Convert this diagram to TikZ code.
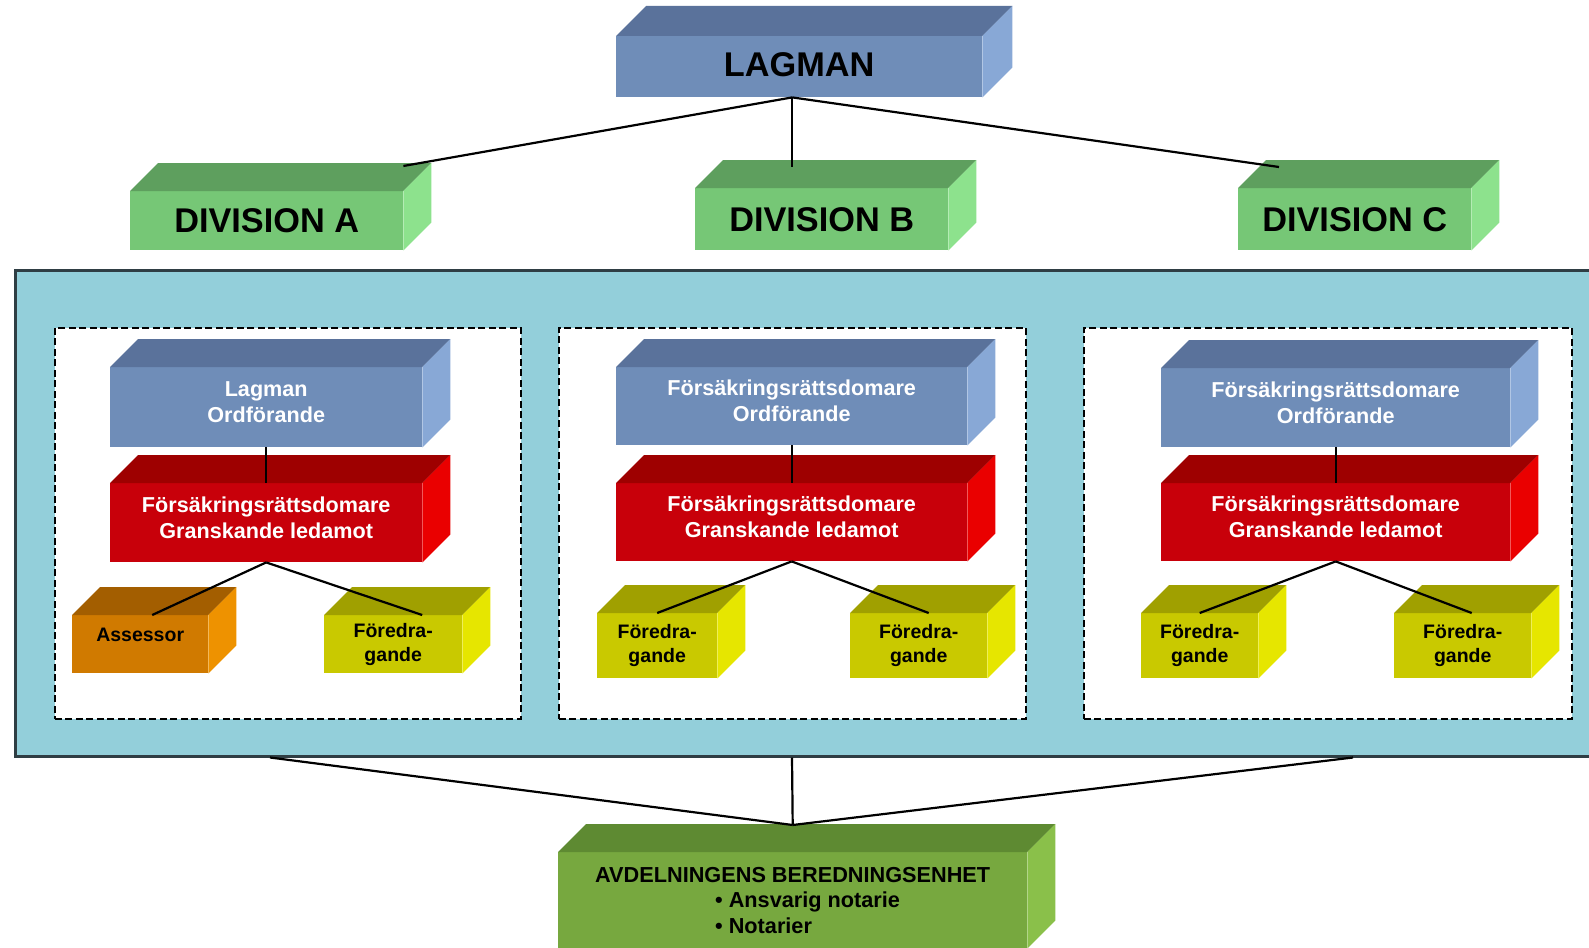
\documentclass[tikz,border=0pt]{standalone}
\usepackage{fontspec}
\setmainfont{Liberation Sans}
\usepackage{xcolor}
\usetikzlibrary{calc}

\definecolor{bluefront}{HTML}{6F8DB8}
\definecolor{bluetop}{HTML}{5A729B}
\definecolor{blueside}{HTML}{88A8D6}
\definecolor{divfront}{HTML}{76C776}
\definecolor{divtop}{HTML}{5E9F5E}
\definecolor{divside}{HTML}{8DE28D}
\definecolor{redfront}{HTML}{C8000A}
\definecolor{redtop}{HTML}{9E0000}
\definecolor{redside}{HTML}{EA0000}
\definecolor{orgfront}{HTML}{D07A00}
\definecolor{orgtop}{HTML}{A35E00}
\definecolor{orgside}{HTML}{EE9200}
\definecolor{yelfront}{HTML}{C9C900}
\definecolor{yeltop}{HTML}{A0A000}
\definecolor{yelside}{HTML}{E6E600}
\definecolor{unitfront}{HTML}{77A83F}
\definecolor{unittop}{HTML}{5E8A32}
\definecolor{unitside}{HTML}{8AC04A}
\definecolor{panelfill}{HTML}{93CFDA}
\definecolor{panelline}{HTML}{2F3E44}

% top and side faces of a box node
\newcommand{\sides}[4][28]{%
  \fill[#3] (#2.north west) -- ++(#1,-#1) -- ($(#2.north east)+(#1,-#1)$) -- (#2.north east) -- cycle;
  \fill[#4] (#2.north east) -- ++(#1,-#1) -- ($(#2.south east)+(#1,-#1)$) -- (#2.south east) -- cycle;
}

\begin{document}
\begin{tikzpicture}[x=1pt, y=-1pt,
    block/.style={rectangle, inner sep=0pt, anchor=north west, align=center},
    big/.style={font=\bfseries\fontsize{34.3}{40}\selectfont},
    mid/.style={font=\bfseries\fontsize{21.6}{26}\selectfont, text=white, text depth=11pt},
    small/.style={font=\bfseries\fontsize{19.5}{24}\selectfont},
    group/.style={block, draw=black, fill=white, line width=1.8pt, dash pattern=on 7pt off 3.5pt},
    link/.style={line width=2.2pt}]
    \fill[white, use as bounding box] (0,0) rectangle (1589,947);

    \node [block, draw=panelline, line width=2.5pt, fill=panelfill, minimum width=1620pt, minimum height=486pt] (panel) at (14,269) {};
    \node [group, minimum width=466pt, minimum height=391pt] (grpA) at (54,327) {};
    \node [group, minimum width=467pt, minimum height=391pt] (grpB) at (558,327) {};
    \node [group, minimum width=488pt, minimum height=391pt] (grpC) at (1083,327) {};

    \node [block, big, fill=bluefront, minimum width=366pt, minimum height=61pt, text depth=4pt] (lagman) at (616,36) {LAGMAN};
    \sides[30]{lagman}{bluetop}{blueside}
    \node [block, big, fill=divfront, minimum width=273pt, minimum height=59pt] (divA) at (130,191) {DIVISION A};
    \sides{divA}{divtop}{divside}
    \node [block, big, fill=divfront, minimum width=253pt, minimum height=62pt] (divB) at (695,188) {DIVISION B};
    \sides{divB}{divtop}{divside}
    \node [block, big, fill=divfront, minimum width=233pt, minimum height=62pt] (divC) at (1238,188) {DIVISION C};
    \sides{divC}{divtop}{divside}

    \node [block, mid, fill=bluefront, minimum width=312pt, minimum height=80pt] (blueA) at (110,367) {Lagman\\Ordförande};
    \sides{blueA}{bluetop}{blueside}
    \node [block, mid, fill=redfront, minimum width=312pt, minimum height=79pt] (redA) at (110,483) {Försäkringsrättsdomare\\Granskande ledamot};
    \sides{redA}{redtop}{redside}
    \node [block, small, fill=orgfront, minimum width=136pt, minimum height=58pt, text depth=18pt] (assA) at (72,615) {Assessor};
    \sides{assA}{orgtop}{orgside}
    \node [block, small, fill=yelfront, minimum width=138pt, minimum height=58pt] (fbA) at (324,615) {Föredra-\\gande};
    \sides{fbA}{yeltop}{yelside}

    \node [block, mid, fill=bluefront, minimum width=351pt, minimum height=78pt] (blueB) at (616,367) {Försäkringsrättsdomare\\Ordförande};
    \sides{blueB}{bluetop}{blueside}
    \node [block, mid, fill=redfront, minimum width=351pt, minimum height=78pt] (redB) at (616,483) {Försäkringsrättsdomare\\Granskande ledamot};
    \sides{redB}{redtop}{redside}
    \node [block, small, fill=yelfront, minimum width=120pt, minimum height=65pt] (flB) at (597,613) {Föredra-\\gande};
    \sides{flB}{yeltop}{yelside}
    \node [block, small, fill=yelfront, minimum width=137pt, minimum height=65pt] (frB) at (850,613) {Föredra-\\gande};
    \sides{frB}{yeltop}{yelside}

    \node [block, mid, fill=bluefront, minimum width=349pt, minimum height=79pt] (blueC) at (1161,368) {Försäkringsrättsdomare\\Ordförande};
    \sides{blueC}{bluetop}{blueside}
    \node [block, mid, fill=redfront, minimum width=349pt, minimum height=78pt] (redC) at (1161,483) {Försäkringsrättsdomare\\Granskande ledamot};
    \sides{redC}{redtop}{redside}
    \node [block, small, fill=yelfront, minimum width=117pt, minimum height=65pt] (flC) at (1141,613) {Föredra-\\gande};
    \sides{flC}{yeltop}{yelside}
    \node [block, small, fill=yelfront, minimum width=137pt, minimum height=65pt] (frC) at (1394,613) {Föredra-\\gande};
    \sides{frC}{yeltop}{yelside}

    \node [block, fill=unitfront, minimum width=469pt, minimum height=96pt, font=\bfseries\fontsize{21.7}{25.5}\selectfont, align=left] (unit) at (558,852)
        {AVDELNINGENS BEREDNINGSENHET\\\hspace*{120pt}\textbullet\ Ansvarig notarie\\\hspace*{120pt}\textbullet\ Notarier};
    \sides{unit}{unittop}{unitside}

    \coordinate (hub) at ([xshift=-7pt]lagman.south);
    \coordinate (topA) at ($(divA.north east)+(0,-25)$);
    \coordinate (topB) at ($(hub)+(0,70)$);
    \coordinate (topC) at ($(divC.north west)+(41,-21)$);
    \draw[link] (hub) -- (topA);
    \draw[link] (hub) -- (topB);
    \draw[link] (hub) -- (topC);

    \draw[link] (blueA.south) -- (redA.north);
    \draw[link] (redA.south) -- ([xshift=12pt]assA.north);
    \draw[link] (redA.south) -- ([xshift=29pt]fbA.north);
    \draw[link] (blueB.south) -- (redB.north);
    \draw[link] (redB.south) -- (flB.north);
    \draw[link] (redB.south) -- ([xshift=10pt]frB.north);
    \draw[link] (blueC.south) -- (redC.north);
    \draw[link] (redC.south) -- (flC.north);
    \draw[link] (redC.south) -- ([xshift=9pt]frC.north);

    \coordinate (botA) at ($(panel.south west)+(256,0)$);
    \coordinate (botB) at ($(panel.south west)+(778,0)$);
    \coordinate (botC) at ($(panel.south west)+(1339,0)$);
    \coordinate (unitTop) at ($(unit.north)+(0,-27)$);
    \draw[link] (botA) -- (unitTop);
    \draw[link] (botB) -- (unitTop);
    \draw[link] (botC) -- (unitTop);
\end{tikzpicture}
\end{document}
